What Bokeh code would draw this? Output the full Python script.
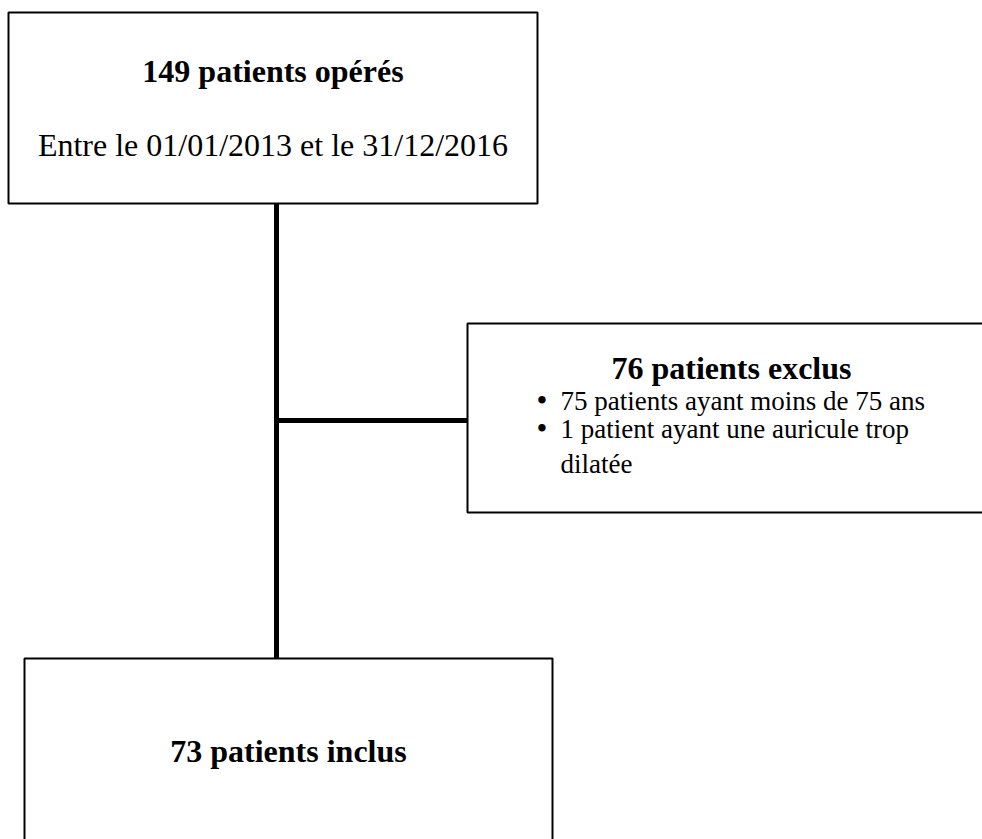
from bokeh.plotting import figure
from bokeh.models import Range1d
from bokeh.embed import file_html
from bokeh.resources import INLINE
from bokeh.core.properties import value

# ---- data (flowchart content) ----
n_operated = 149
n_excluded = 76
n_included = 73
period_label = "Entre le 01/01/2013 et le 31/12/2016"
exclusion_lines = [
    ["75 patients ayant moins de 75 ans"],
    ["1 patient ayant une auricule trop", "dilatée"],
]

# ---- layout (page pixels) ----
FONT = value("Liberation Serif")
W, H = 982, 839
TDY = -12  # compensation for text placement

p = figure(width=W, height=H, output_backend="svg", toolbar_location=None,
           x_range=Range1d(0, W), y_range=Range1d(H, 0),
           min_border=0, outline_line_color=None, background_fill_color="white",
           border_fill_color="white")
p.axis.visible = False
p.grid.visible = False

# boxes: (left, right, top, bottom)
boxes = {
    "top": (8, 537, 12, 203),
    "excl": (467, 995, 323, 512),
    "incl": (24, 552, 658, 860),
}
for l, r, t, b in boxes.values():
    p.quad(left=[l], right=[r], top=[t], bottom=[b], fill_color=None,
           line_color="black", line_width=2)

# connectors
vx = 276
hy = 420
p.segment(x0=[vx], y0=[boxes["top"][3]], x1=[vx], y1=[boxes["incl"][2]],
          line_color="black", line_width=5, line_cap="butt")
p.segment(x0=[vx], y0=[hy], x1=[boxes["excl"][0]], y1=[hy],
          line_color="black", line_width=5, line_cap="butt")


def txt(x, y, s, size, bold=False, align="center"):
    p.text(x=[x], y=[y + TDY], text=[s], text_font=FONT,
           text_font_style="bold" if bold else "normal",
           text_font_size=size, text_align=align,
           text_baseline="alphabetic", text_color="black")


cx_top = (boxes["top"][0] + boxes["top"][1]) / 2
txt(cx_top, 82, f"{n_operated} patients opérés", "32px", bold=True)
txt(cx_top, 156, period_label, "32px")

cx_excl = (boxes["excl"][0] + boxes["excl"][1]) / 2
txt(cx_excl, 379, f"{n_excluded} patients exclus", "32px", bold=True)

bullet_x, text_x = 541.5, 560
line_ys = [412, 440, 475]
row = 0
for item in exclusion_lines:
    txt(bullet_x, line_ys[row], "\u2022", "31px")
    for line in item:
        txt(text_x, line_ys[row], line, "27px", align="left")
        row += 1

cx_incl = (boxes["incl"][0] + boxes["incl"][1]) / 2
txt(cx_incl, 762, f"{n_included} patients inclus", "32px", bold=True)

open("out.html", "w").write(file_html(p, INLINE))
